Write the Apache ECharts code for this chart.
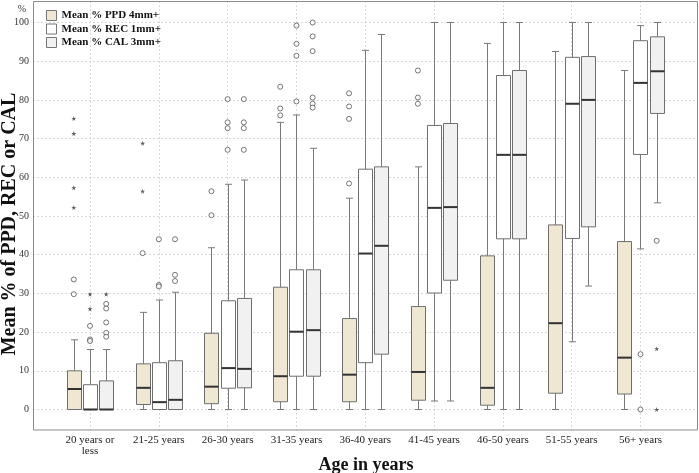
<!DOCTYPE html>
<html>
<head>
<meta charset="utf-8">
<script src="https://cdn.jsdelivr.net/npm/echarts@6/dist/echarts.min.js"></script>
<style>
html,body{margin:0;padding:0;background:#fff;}
#chart{width:699px;height:473px;}
</style>
</head>
<body>
<div id="chart"></div>
<script>
var categories = ['20 years or\nless','21-25 years','26-30 years','31-35 years','36-40 years','41-45 years','46-50 years','51-55 years','56+ years'];
var seriesNames = ['Mean % PPD 4mm+','Mean % REC 1mm+','Mean % CAL 3mm+'];
var yTicks = [0,10,20,30,40,50,60,70,80,90,100];

// [min, Q1, median, Q3, max] per age group
var ppdBox = [[0,0,5.3,10.0,18.0],[0,1.3,5.6,11.8,25.1],[0,1.5,5.9,19.7,41.8],[0,2.0,8.6,31.6,74.2],[0,2.0,9.0,23.5,54.6],[0,2.4,9.7,26.6,62.7],[0,1.1,5.6,39.7,94.6],[0,4.2,22.3,47.7,92.5],[0,4.0,13.4,43.4,87.6]];
var recBox = [[0,0,0,6.4,15.5],[0,0,1.9,12.1,28.3],[0,5.5,10.7,28.1,58.2],[0,8.6,20.1,36.1,76.1],[0,12.1,40.3,62.1,92.8],[2.2,30.1,52.1,73.4,100],[0,44.1,65.8,86.3,100],[17.5,44.2,79.0,91.0,100],[41.5,65.9,84.4,95.3,99.2]];
var calBox = [[0,0,0,7.4,15.5],[0,0,2.5,12.6,30.3],[0,5.6,10.5,28.7,59.3],[0,8.6,20.5,36.1,67.5],[0,14.3,42.3,62.7,96.9],[2.2,33.4,52.3,73.9,100],[0,44.1,65.8,87.6,100],[31.9,47.2,80.0,91.2,100],[53.4,76.5,87.4,96.3,100]];

// outliers [age group index, value]
var ppdOutliers = [[0,33.6],[0,29.8],[1,40.4],[2,56.4],[2,50.2],[3,83.4],[3,77.8],[3,76.0],[4,81.7],[4,78.3],[4,75.1],[4,58.4],[5,87.6],[5,80.6],[5,79.0]];
var ppdExtremes = [[0,75.2],[0,71.3],[0,57.3],[0,52.2],[1,68.8],[1,56.4]];
var recOutliers = [[0,21.6],[0,18.1],[0,17.7],[1,44.0],[1,32.2],[1,31.8],[2,80.2],[2,74.2],[2,72.7],[2,67.1],[3,99.2],[3,94.5],[3,91.4],[3,79.6],[8,14.3],[8,0]];
var recExtremes = [[0,29.8],[0,26.0]];
var calOutliers = [[0,27.3],[0,26.1],[0,22.5],[0,19.8],[0,18.8],[1,44.0],[1,34.8],[1,33.2],[2,80.2],[2,74.2],[2,72.7],[2,67.1],[3,100],[3,96.4],[3,92.6],[3,80.6],[3,79.0],[3,78.0],[8,43.6]];
var calExtremes = [[0,29.8],[8,15.7],[8,0]];

var FONT = '"Liberation Serif","Times New Roman",serif';
var fills = ['#efe7d2','#ffffff','#f1f1f1'];
var offsets = [-16.2, 0, 16.2];
var STAR = 'path://M50,0 L61,35 L98,35 L68,57 L79,91 L50,70 L21,91 L32,57 L2,35 L39,35 Z';

function withIndex(arr){ return arr.map(function(b,i){ return [i].concat(b); }); }

function boxRenderer(offset, fill){
  return function(params, api){
    var c = api.value(0);
    var x = Math.round(api.coord([c, 0])[0] + offset) + 0.5;
    var y = [1,2,3,4,5].map(function(d){ return api.coord([c, api.value(d)])[1]; });
    var hw = 7, cw = 3.5;
    var ls = {stroke:'#7a7a7a', lineWidth:1};
    return {type:'group', children:[
      {type:'line', shape:{x1:x,y1:y[0],x2:x,y2:y[1]}, style:ls},
      {type:'line', shape:{x1:x,y1:y[3],x2:x,y2:y[4]}, style:ls},
      {type:'line', shape:{x1:x-cw,y1:y[0],x2:x+cw,y2:y[0]}, style:ls},
      {type:'line', shape:{x1:x-cw,y1:y[4],x2:x+cw,y2:y[4]}, style:ls},
      {type:'rect', shape:{x:x-hw,y:y[3],width:2*hw,height:y[1]-y[3]}, style:{fill:fill, stroke:'#6e6e6e', lineWidth:1}},
      {type:'line', shape:{x1:x-hw,y1:y[2],x2:x+hw,y2:y[2]}, style:{stroke:'#333333', lineWidth:2}}
    ]};
  };
}

var boxes = [ppdBox, recBox, calBox];
var outs = [ppdOutliers, recOutliers, calOutliers];
var exts = [ppdExtremes, recExtremes, calExtremes];

var series = [];
for (var s = 0; s < 3; s++) {
  series.push({
    name: seriesNames[s], type:'custom', xAxisIndex:1, yAxisIndex:1,
    renderItem: boxRenderer(offsets[s], fills[s]),
    encode:{x:0, y:[1,2,3,4,5]},
    itemStyle:{color:fills[s], borderColor:'#777', borderWidth:1},
    data: withIndex(boxes[s]), z:3
  });
  series.push({
    name: seriesNames[s] + ' outliers', type:'scatter', xAxisIndex:1, yAxisIndex:1,
    symbol:'circle', symbolSize:5, symbolOffset:[offsets[s],0], clip:false,
    itemStyle:{color:'#ffffff', borderColor:'#555', borderWidth:1},
    data: outs[s], z:4
  });
  series.push({
    name: seriesNames[s] + ' extremes', type:'scatter', xAxisIndex:1, yAxisIndex:1,
    symbol:STAR, symbolSize:5, symbolOffset:[offsets[s],0], clip:false,
    itemStyle:{color:'#333'},
    data: exts[s], z:4
  });
}

var chart = echarts.init(document.getElementById('chart'), null, {renderer:'canvas'});
chart.setOption({
  animation:false,
  backgroundColor:'#fff',
  grid:[
    {left:33, right:1, top:22.5, bottom:63.5},
    {left:55.6, right:24.1, top:22.5, bottom:63.5},
    {left:90, right:58.5, top:1, bottom:43}
  ],
  xAxis:[
    {gridIndex:0, type:'value', show:false},
    {gridIndex:1, type:'category', data:categories, boundaryGap:true,
     axisLine:{show:false}, axisTick:{show:false}, splitLine:{show:false},
     axisLabel:{interval:0, margin:25, fontFamily:FONT, fontSize:11, color:'#222', lineHeight:11}},
    {gridIndex:2, type:'category', data:categories, boundaryGap:false,
     axisLine:{show:false}, axisTick:{show:false}, axisLabel:{show:false},
     splitLine:{show:true, interval:0, lineStyle:{color:'#d8d8d8', type:[2,2], width:1}}}
  ],
  yAxis:[
    {gridIndex:0, type:'value', min:yTicks[0], max:yTicks[yTicks.length-1], interval:10,
     axisLine:{show:false}, axisTick:{show:false},
     axisLabel:{margin:4, fontFamily:FONT, fontSize:10, color:'#333'},
     splitLine:{show:true, lineStyle:{color:'#d8d8d8', type:[2,2], width:1}}},
    {gridIndex:1, type:'value', min:0, max:100, show:false},
    {gridIndex:2, type:'value', min:0, max:100, show:false}
  ],
  legend:{
    orient:'vertical', left:46, top:10, padding:0, itemWidth:10, itemHeight:10, itemGap:2.5,
    icon:'rect', selectedMode:false,
    textStyle:{fontFamily:FONT, fontWeight:'bold', fontSize:11, color:'#111', lineHeight:10},
    data: seriesNames.map(function(n,i){ return {name:n, itemStyle:{color:fills[i], borderColor:'#777', borderWidth:1}}; })
  },
  graphic:[
    {type:'rect', shape:{x:33.5, y:1.5, width:664, height:428.5}, style:{fill:null, stroke:'#8c8c8c', lineWidth:1}, z:10, silent:true},
    {type:'text', x:22, y:9, style:{text:'%', fontFamily:FONT, fontSize:10, fill:'#333', align:'center', verticalAlign:'middle'}},
    {type:'text', x:10, y:224, rotation:Math.PI/2, style:{text:'Mean % of PPD, REC or CAL', fontFamily:FONT, fontWeight:'bold', fontSize:20, fill:'#111', align:'center', verticalAlign:'middle'}},
    {type:'text', x:366, y:465, style:{text:'Age in years', fontFamily:FONT, fontWeight:'bold', fontSize:18, fill:'#111', align:'center', verticalAlign:'middle'}}
  ],
  series: series
});
</script>
</body>
</html>
